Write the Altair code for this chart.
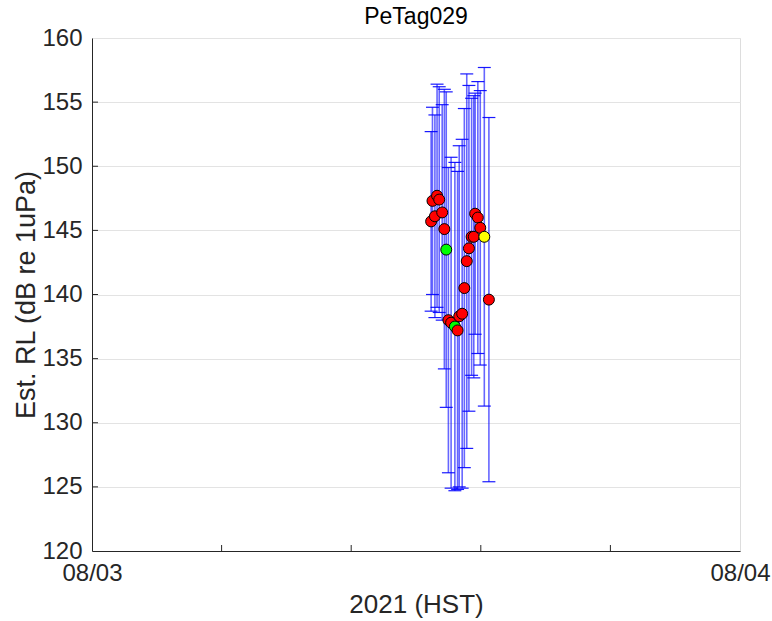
import altair as alt
import pandas as pd

# hours after 08/03 00:00 (HST)
t_hours = [12.56, 12.61, 12.70, 12.78, 12.86, 12.97, 13.05, 13.12, 13.20, 13.30, 13.44, 13.54,
           13.60, 13.71, 13.79, 13.88, 13.96, 14.06, 14.14, 14.19, 14.29, 14.38, 14.53, 14.70]
rl_db = [145.7, 147.3, 146.1, 147.7, 147.4, 146.4, 145.1, 143.5, 138.0, 137.8, 137.5, 137.2,
         138.3, 138.5, 140.5, 142.6, 143.6, 144.5, 144.5, 146.3, 146.0, 145.2, 144.5, 139.6]
err_db = [7.0, 7.3, 7.9, 8.7, 8.8, 8.4, 10.9, 12.3, 11.9, 12.9, 12.8, 12.4,
          13.3, 13.6, 14.0, 14.6, 12.7, 10.8, 11.0, 9.4, 10.6, 10.7, 13.2, 14.2]
kind = ["red", "red", "red", "red", "red", "red", "red", "green", "red", "red", "green", "red",
        "red", "red", "red", "red", "red", "red", "red", "red", "red", "red", "yellow", "red"]

x_tick_values = [0, 4.8, 9.6, 14.4, 19.2, 24]
y_tick_values = [120, 125, 130, 135, 140, 145, 150, 155, 160]

df = pd.DataFrame({"t": t_hours, "rl": rl_db, "err": err_db, "kind": kind})
ticks_x = pd.DataFrame({"t": x_tick_values[1:-1]})
ticks_y = pd.DataFrame({"rl": y_tick_values[1:-1]})

W, H = 648, 513
CAP = 0.24
FONT = "Liberation Sans"
AX = "#262626"

xscale = alt.Scale(domain=[0, 24], nice=False, zero=False)
yscale = alt.Scale(domain=[120, 160], nice=False, zero=False)

xenc = alt.X("t:Q", scale=xscale, axis=alt.Axis(
    values=x_tick_values,
    labelExpr="datum.value == 0 ? '08/03' : (datum.value == 24 ? '08/04' : '')",
    grid=False, ticks=False, tickSize=0, labelPadding=10, labelFontSize=24,
    labelFont=FONT, labelColor=AX, domainColor=AX, title="2021 (HST)",
    titleFont=FONT, titleFontSize=26, titleFontWeight="normal", titleColor=AX,
    titlePadding=6, labelFlush=False))
yenc = alt.Y("rl:Q", scale=yscale, axis=alt.Axis(
    values=y_tick_values, grid=True, gridColor="#e3e3e3", ticks=False, tickSize=0,
    labelPadding=10, labelFontSize=24, labelFont=FONT, labelColor=AX, domainColor=AX,
    title="Est. RL (dB re 1uPa)", titleFont=FONT, titleFontSize=27,
    titleFontWeight="normal", titleColor=AX, titlePadding=1))

base = alt.Chart(df).transform_calculate(
    lo="datum.rl - datum.err", hi="datum.rl + datum.err",
    tl=f"datum.t - {CAP}", tr=f"datum.t + {CAP}")

bars = base.mark_rule(color="#0000ff", opacity=0.6, strokeWidth=1.6).encode(
    x=xenc, y=yenc, y2="hi:Q")
bars_lo = base.mark_rule(color="#0000ff", opacity=0.6, strokeWidth=1.6).encode(
    x="t:Q", y="lo:Q", y2="rl:Q")
cap_hi = base.mark_rule(color="#0000ff", opacity=0.9, strokeWidth=1.2).encode(
    x="tl:Q", x2="tr:Q", y="hi:Q")
cap_lo = base.mark_rule(color="#0000ff", opacity=0.9, strokeWidth=1.2).encode(
    x="tl:Q", x2="tr:Q", y="lo:Q")

pts = base.mark_point(filled=True, shape="circle", size=120, stroke="black",
                      strokeWidth=1, opacity=1).encode(
    x="t:Q", y="rl:Q",
    fill=alt.Fill("kind:N", scale=alt.Scale(domain=["red", "green", "yellow"],
                                            range=["#ff0000", "#00ff00", "#ffff00"]),
                  legend=None))

xt = alt.Chart(ticks_x).mark_rule(color=AX).encode(
    x="t:Q", y=alt.value(H), y2=alt.value(H - 6))
yt = alt.Chart(ticks_y).mark_rule(color=AX).encode(
    y="rl:Q", x=alt.value(0), x2=alt.value(6))

chart = alt.layer(bars, bars_lo, cap_hi, cap_lo, pts, xt, yt).properties(
    width=W, height=H,
    title=alt.TitleParams("PeTag029", font=FONT, fontSize=23, fontWeight="normal",
                          color="#000000", offset=0, dy=3),
    autosize=alt.AutoSizeParams(type="none"),
    padding={"left": 92, "top": 38, "right": 32, "bottom": 70},
).configure_view(stroke=AX, strokeWidth=1).configure(background="white")

chart.save("out.html", embed_options={"renderer": "svg", "actions": False})
